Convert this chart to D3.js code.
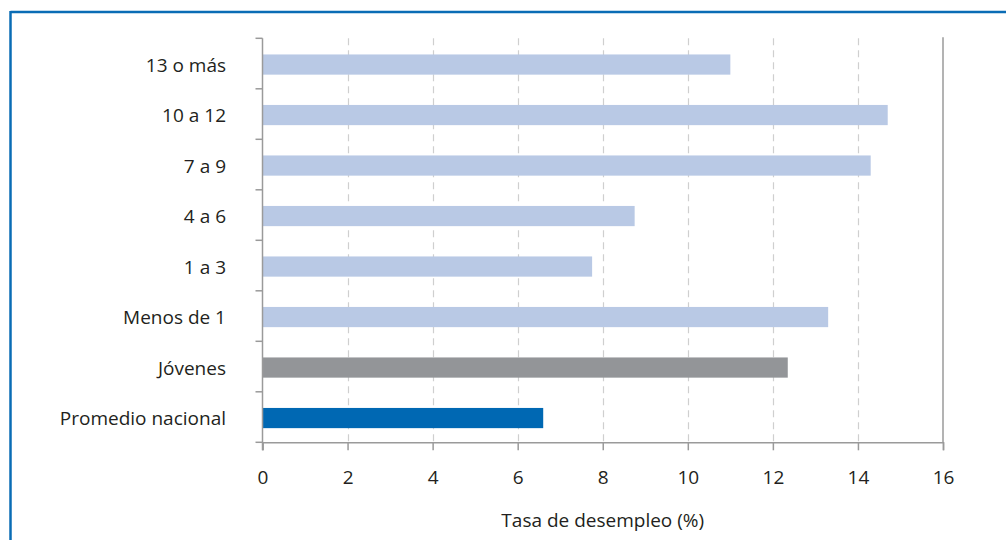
<!DOCTYPE html>
<html><head><meta charset="utf-8">
<script src="https://cdn.jsdelivr.net/npm/d3@7"></script>
<style>
html,body{margin:0;padding:0;background:#fff;}
svg{display:block;font-family:"Open Sans","Noto Sans",sans-serif;}
</style></head>
<body>
<svg id="c" width="1006" height="540"></svg>
<script>
const categories = ["13 o más","10 a 12","7 a 9","4 a 6","1 a 3","Menos de 1","Jóvenes","Promedio nacional"];
const values = [11.0, 14.7, 14.3, 8.75, 7.75, 13.3, 12.35, 6.6];
const barColors = ["#b9c9e5","#b9c9e5","#b9c9e5","#b9c9e5","#b9c9e5","#b9c9e5","#939598","#0068b3"];
const xTicks = [0,2,4,6,8,10,12,14,16];
const xTitle = "Tasa de desempleo (%)";

const FONT = "'Open Sans','Noto Sans',sans-serif";
const FS = 19;
const svg = d3.select("#c");
// frame
svg.append("line").attr("x1",10.5).attr("x2",1006).attr("y1",12).attr("y2",12).attr("stroke","#0a6cb5").attr("stroke-width",2.5);
svg.append("line").attr("x1",10.5).attr("x2",10.5).attr("y1",11).attr("y2",540).attr("stroke","#0a6cb5").attr("stroke-width",2.5);

const L=262.5, R=943, T=38.3, B=442.3;
const x = d3.scaleLinear().domain([0,16]).range([L,R]);
const y = d3.scaleBand().domain(categories).range([T,B]).paddingInner(0.6).paddingOuter(0.3);
const yEdges = d3.scaleLinear().domain([0,categories.length]).range([T,B]);

// gridlines
svg.append("g").selectAll("line").data(xTicks.filter(t=>t>0&&t<16)).join("line")
  .attr("x1",d=>Math.round(x(d))+0.5).attr("x2",d=>Math.round(x(d))+0.5)
  .attr("y1",T).attr("y2",B)
  .attr("stroke","#cfcfcf").attr("stroke-width",1.2).attr("stroke-dasharray","7,5");

// bars
svg.append("g").selectAll("rect").data(categories).join("rect")
  .attr("x",x(0)).attr("y",d=>y(d)+1).attr("height",y.bandwidth())
  .attr("width",(d,i)=>x(values[i])-x(0))
  .attr("fill",(d,i)=>barColors[i]);

const axCol="#9a9a9a";
// right border line
svg.append("line").attr("x1",R).attr("x2",R).attr("y1",T-1).attr("y2",B).attr("stroke",axCol).attr("stroke-width",1.5);

// x axis
const xa = svg.append("g").attr("transform",`translate(0,${B})`)
  .call(d3.axisBottom(x).tickValues(xTicks).tickSize(8).tickPadding(20).tickFormat(d3.format("d")));
xa.select(".domain").attr("stroke",axCol).attr("stroke-width",1.5);
xa.selectAll(".tick line").attr("stroke",axCol).attr("stroke-width",1.5);
xa.selectAll(".tick text").attr("fill","#231f20").attr("font-size",FS).attr("font-family",FONT);

// y axis
svg.append("line").attr("x1",L).attr("x2",L).attr("y1",T).attr("y2",B+8).attr("stroke",axCol).attr("stroke-width",1.5);
svg.append("g").selectAll("line").data(d3.range(categories.length+1)).join("line")
  .attr("x1",L-7).attr("x2",L).attr("y1",d=>yEdges(d)).attr("y2",d=>yEdges(d))
  .attr("stroke",axCol).attr("stroke-width",1.5);
svg.append("g").selectAll("text").data(categories).join("text")
  .attr("x",226).attr("y",d=>y(d)+y.bandwidth()/2+1)
  .attr("text-anchor","end").attr("dominant-baseline","central")
  .attr("fill","#231f20").attr("font-size",FS).text(d=>d);

svg.append("text").attr("x",(L+R)/2).attr("y",520).attr("text-anchor","middle")
  .attr("dominant-baseline","central").attr("fill","#231f20").attr("font-size",FS).text(xTitle);
</script>
</body></html>
